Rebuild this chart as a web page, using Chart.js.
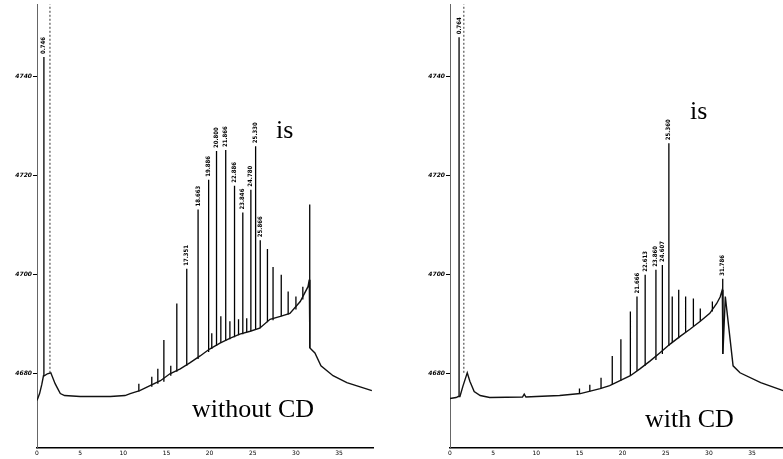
<!DOCTYPE html>
<html>
<head>
<meta charset="utf-8">
<script src="https://cdn.jsdelivr.net/npm/chart.js@4/dist/chart.umd.min.js"></script>
<style>
  html, body { margin:0; padding:0; background:#fff; }
  body { width:783px; height:459px; overflow:hidden; position:relative; }
  canvas { position:absolute; top:0; }
  .txt { position:absolute; font-family:"Liberation Serif","Times New Roman",serif; font-size:26px; line-height:26px; color:#000; white-space:nowrap; }
</style>
</head>
<body>
<canvas id="left" width="380" height="459" style="left:0px"></canvas>
<canvas id="right" width="380" height="459" style="left:413px"></canvas>
<div class="txt" style="left:276px; top:117px;">is</div>
<div class="txt" style="left:690px; top:98px;">is</div>
<div class="txt" style="left:192px; top:396px;">without CD</div>
<div class="txt" style="left:645px; top:406px;">with CD</div>
<script>
// ---- axis ticks ----
const xTicks = [0, 5, 10, 15, 20, 25, 30, 35];
const yTicks = [4680, 4700, 4720, 4740];

// ---- left panel (without CD) ----
const leftBaseT = [0, 0.3, 0.55, 0.75, 0.85, 1.2, 1.6, 2.1, 2.4, 2.7, 3.2, 5, 8.5, 10.2, 10.8, 11.9, 13.1, 14.3, 15.4, 16.6, 17.7, 18.9, 20.0, 21.2, 22.4, 23.5, 24.7, 25.8, 27.0, 28.2, 29.3, 30.5, 31.4, 31.55, 31.62, 32.2, 32.9, 34.3, 35.9, 38.8];
const leftBaseV = [4674.6, 4676, 4677.8, 4679.6, 4679.6, 4680, 4680.2, 4678, 4677, 4676, 4675.6, 4675.4, 4675.4, 4675.6, 4676, 4676.6, 4677.6, 4678.6, 4680, 4681, 4682.2, 4683.6, 4685, 4686.2, 4687.2, 4688, 4688.6, 4689.2, 4691, 4691.6, 4692.2, 4694.6, 4697.6, 4699, 4685.2, 4684.2, 4681.6, 4679.6, 4678.2, 4676.6];

const leftPeakT    = [0.8, 11.8, 13.3, 14.0, 14.7, 15.5, 16.2, 17.351, 18.663, 19.886, 20.25, 20.8, 21.3, 21.866, 22.35, 22.886, 23.35, 23.846, 24.3, 24.78, 25.33, 25.866, 26.7, 27.35, 28.3, 29.1, 30.0, 30.8, 31.6];
const leftPeakTop  = [4744, 4678, 4679.4, 4681, 4686.8, 4681.6, 4694.2, 4701.2, 4713.2, 4719.2, 4688.2, 4725, 4691.6, 4725.2, 4690.6, 4718, 4691, 4712.6, 4691.2, 4717.2, 4726, 4707, 4705.2, 4701.6, 4700, 4696.6, 4695.6, 4697.6, 4714.2];
const leftPeakBase = [4679.6, 4676.4, 4677.4, 4678, 4678.4, 4679.6, 4680.4, 4681.6, 4683, 4684.4, 4685, 4685.6, 4686.2, 4686.6, 4687, 4687.4, 4687.8, 4688, 4688.4, 4688.6, 4689, 4689.2, 4690.4, 4690.8, 4691.6, 4692, 4693, 4695, 4685.2];
const leftPeakLabel = ['0.746', '', '', '', '', '', '', '17.351', '18.663', '19.886', '', '20.800', '', '21.866', '', '22.886', '', '23.846', '', '24.780', '25.330', '25.866', '', '', '', '', '', '', ''];

const leftFaintT = [1.5];
const leftFaintTop = [4760];
const leftFaintBase = [4680.2];

// ---- right panel (with CD) ----
const rightBaseT = [0, 0.7, 0.95, 1.15, 1.5, 2.0, 2.3, 2.8, 3.5, 4.6, 8.4, 8.6, 8.8, 10, 12.7, 15.1, 17.4, 18.5, 19.7, 20.9, 22.0, 23.2, 24.3, 25.5, 26.7, 27.8, 29.0, 30.1, 30.9, 31.3, 31.55, 31.62, 31.9, 32.8, 33.6, 36.0, 38.6];
const rightBaseV = [4675, 4675.2, 4675.4, 4675.4, 4677.5, 4680.2, 4678.5, 4676.4, 4675.6, 4675.2, 4675.3, 4675.9, 4675.3, 4675.4, 4675.6, 4676, 4677, 4677.6, 4678.6, 4679.6, 4681, 4682.6, 4684.2, 4686, 4687.6, 4689, 4690.6, 4692.2, 4694.2, 4695.5, 4697, 4684, 4695.6, 4681.6, 4680.2, 4678.2, 4676.6];

const rightPeakT    = [1.05, 15.0, 16.2, 17.5, 18.8, 19.8, 20.9, 21.666, 22.613, 23.86, 24.607, 25.36, 25.75, 26.5, 27.3, 28.2, 29.0, 30.4, 31.6];
const rightPeakTop  = [4748, 4677, 4677.8, 4679.2, 4683.6, 4687, 4692.6, 4695.6, 4700, 4701, 4702, 4726.6, 4695.6, 4697, 4695.6, 4695.2, 4693.2, 4694.6, 4699.2];
const rightPeakBase = [4675.4, 4676, 4676.4, 4677, 4677.8, 4678.6, 4679.6, 4680.6, 4681.6, 4682.8, 4684, 4685.6, 4686.2, 4687.2, 4688.4, 4689.6, 4690.6, 4692.6, 4684];
const rightPeakLabel = ['0.764', '', '', '', '', '', '', '21.666', '22.613', '23.860', '24.607', '25.360', '', '', '', '', '', '', '31.786'];

const rightFaintT = [1.6];
const rightFaintTop = [4760];
const rightFaintBase = [4680.2];

function pts(ts, vs) { return ts.map((t, i) => ({ x: t, y: vs[i] })); }
function segs(ts, tops, bases) {
  const out = [];
  ts.forEach((t, i) => { out.push({ x: t, y: bases[i] }, { x: t, y: tops[i] }, { x: t, y: null }); });
  return out;
}

const peakLabelPlugin = {
  id: 'peakLabels',
  afterDatasetsDraw(chart, args, opts) {
    const { ctx, scales } = chart;
    ctx.save();
    ctx.fillStyle = '#000';
    ctx.font = 'bold 6px "DejaVu Sans Condensed", "DejaVu Sans", sans-serif';
    ctx.textAlign = 'left';
    ctx.textBaseline = 'middle';
    opts.labels.forEach((lab, i) => {
      if (!lab) return;
      const px = scales.x.getPixelForValue(opts.t[i]);
      const py = scales.y.getPixelForValue(opts.top[i]);
      ctx.save();
      ctx.translate(px, py - 3);
      ctx.rotate(-Math.PI / 2);
      ctx.fillText(lab, 0, 0);
      ctx.restore();
    });
    ctx.restore();
  }
};

function makeChart(id, bT, bV, pT, pTop, pBase, pLab, fT, fTop, fBase) {
  return new Chart(document.getElementById(id), {
    type: 'line',
    data: {
      datasets: [
        { data: pts(bT, bV), borderColor: '#111', borderWidth: 1.4, pointRadius: 0, tension: 0 },
        { data: segs(pT, pTop, pBase), borderColor: '#000', borderWidth: 1.3, pointRadius: 0, spanGaps: false, tension: 0 },
        { data: segs(fT, fTop, fBase), borderColor: '#555', borderWidth: 1.2, borderDash: [2, 2], pointRadius: 0, spanGaps: false, tension: 0 }
      ]
    },
    options: {
      responsive: false,
      animation: false,
      devicePixelRatio: 1,
      layout: { padding: { left: 0, right: 6.4, top: 0, bottom: 0 } },
      plugins: {
        legend: { display: false },
        tooltip: { enabled: false },
        peakLabels: { t: pT, top: pTop, labels: pLab }
      },
      scales: {
        x: {
          type: 'linear', min: 0, max: 39, offset: false,
          afterBuildTicks: s => { s.ticks = xTicks.map(v => ({ value: v })); },
          afterFit: s => { s.height = 11; },
          ticks: { font: { size: 6, family: 'DejaVu Sans' }, color: '#000', padding: 2, maxRotation: 0, autoSkip: false, callback: v => String(v) },
          grid: { display: false, drawTicks: false },
          border: { display: true, color: '#000', width: 1.5 }
        },
        y: {
          type: 'linear', min: 4665, max: 4754.6,
          afterBuildTicks: s => { s.ticks = yTicks.map(v => ({ value: v })); },
          afterFit: s => { s.width = 37; },
          ticks: { font: { size: 6, family: 'DejaVu Sans', weight: 'bold', style: 'italic' }, color: '#000', padding: 1, callback: v => String(v) },
          grid: { display: true, drawOnChartArea: false, drawTicks: true, tickLength: 4, color: '#000' },
          border: { display: true, color: '#666', width: 1, dash: [2, 3] }
        }
      }
    },
    plugins: [peakLabelPlugin]
  });
}

makeChart('left', leftBaseT, leftBaseV, leftPeakT, leftPeakTop, leftPeakBase, leftPeakLabel, leftFaintT, leftFaintTop, leftFaintBase);
makeChart('right', rightBaseT, rightBaseV, rightPeakT, rightPeakTop, rightPeakBase, rightPeakLabel, rightFaintT, rightFaintTop, rightFaintBase);
</script>
</body>
</html>
